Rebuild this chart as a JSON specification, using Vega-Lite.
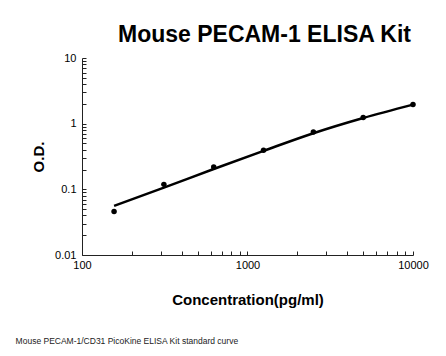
{
  "$schema": "https://vega.github.io/schema/vega-lite/v6.json",
  "autosize": {"type": "pad"},
  "padding": {"left": 15, "top": 24, "right": 20, "bottom": 10},
  "background": "white",
  "bounds": "flush",
  "config": {"view": {"stroke": null}, "font": "Liberation Sans"},
  "title": {
    "text": "Mouse PECAM-1/CD31 PicoKine ELISA Kit standard curve",
    "orient": "bottom",
    "anchor": "start",
    "frame": "bounds",
    "font": "Liberation Sans",
    "fontSize": 8.5,
    "fontWeight": "normal",
    "color": "#222222",
    "dx": -16,
    "offset": 30
  },
  "datasets": {
    "points": [
      {"conc": 156.25, "od": 0.046},
      {"conc": 312.5, "od": 0.119},
      {"conc": 625, "od": 0.218},
      {"conc": 1250, "od": 0.393},
      {"conc": 2500, "od": 0.745},
      {"conc": 5000, "od": 1.245},
      {"conc": 10000, "od": 1.96}
    ],
    "fit": [
      {"conc": 156.25, "od": 0.056},
      {"conc": 312.5, "od": 0.106},
      {"conc": 625, "od": 0.204},
      {"conc": 1250, "od": 0.385},
      {"conc": 2500, "od": 0.715},
      {"conc": 5000, "od": 1.22},
      {"conc": 10000, "od": 1.95}
    ]
  },
  "vconcat": [
    {
      "width": 331,
      "height": 197,
      "title": {
        "text": "Mouse PECAM-1 ELISA Kit",
        "font": "Liberation Sans",
        "fontSize": 23,
        "fontWeight": "bold",
        "color": "black",
        "anchor": "middle",
        "dx": 17,
        "offset": 5
      },
      "layer": [
        {
          "data": {"name": "fit"},
          "mark": {"type": "line", "color": "black", "strokeWidth": 2.5, "interpolate": "monotone"},
          "encoding": {
            "x": {
              "field": "conc", "type": "quantitative",
              "scale": {"type": "log", "domain": [100, 10000], "nice": false},
              "axis": {
                "title": "Concentration(pg/ml)",
                "titleFont": "Liberation Sans",
                "titleFontSize": 15,
                "titleFontWeight": "bold",
                "titleColor": "black",
                "titlePadding": 22,
                "values": [100, 200, 300, 400, 500, 600, 700, 800, 900, 1000, 2000, 3000, 4000, 5000, 6000, 7000, 8000, 9000, 10000],
                "format": "~g",
                "labelExpr": "(datum.value == 100 || datum.value == 1000 || datum.value == 10000) ? datum.label : ''",
                "labelFont": "Liberation Sans",
                "labelFontSize": 11,
                "labelColor": "black",
                "labelPadding": 8,
                "labelFlush": false,
                "labelOverlap": false,
                "grid": false,
                "domainColor": "#222222",
                "domainWidth": 1,
                "tickColor": "#222222",
                "tickSize": -4,
                "tickWidth": 1
              }
            },
            "y": {
              "field": "od", "type": "quantitative",
              "scale": {"type": "log", "domain": [0.01, 10], "nice": false},
              "axis": {
                "title": "O.D.",
                "titleFont": "Liberation Sans",
                "titleFontSize": 15,
                "titleFontWeight": "bold",
                "titleColor": "black",
                "titlePadding": 8,
                "values": [0.01, 0.02, 0.03, 0.04, 0.05, 0.06, 0.07, 0.08, 0.09, 0.1, 0.2, 0.3, 0.4, 0.5, 0.6, 0.7, 0.8, 0.9, 1, 2, 3, 4, 5, 6, 7, 8, 9, 10],
                "format": "~g",
                "labelExpr": "(datum.value == 0.01 || datum.value == 0.1 || datum.value == 1 || datum.value == 10) ? datum.label : ''",
                "labelFont": "Liberation Sans",
                "labelFontSize": 11,
                "labelColor": "black",
                "labelPadding": 10,
                "labelFlush": false,
                "labelOverlap": false,
                "grid": false,
                "domainColor": "#222222",
                "domainWidth": 1,
                "tickColor": "#222222",
                "tickSize": -4,
                "tickWidth": 1
              }
            }
          }
        },
        {
          "data": {"name": "points"},
          "mark": {"type": "point", "filled": true, "color": "black", "size": 30, "opacity": 1},
          "encoding": {
            "x": {"field": "conc", "type": "quantitative"},
            "y": {"field": "od", "type": "quantitative"}
          }
        }
      ]
    }
  ]
}
